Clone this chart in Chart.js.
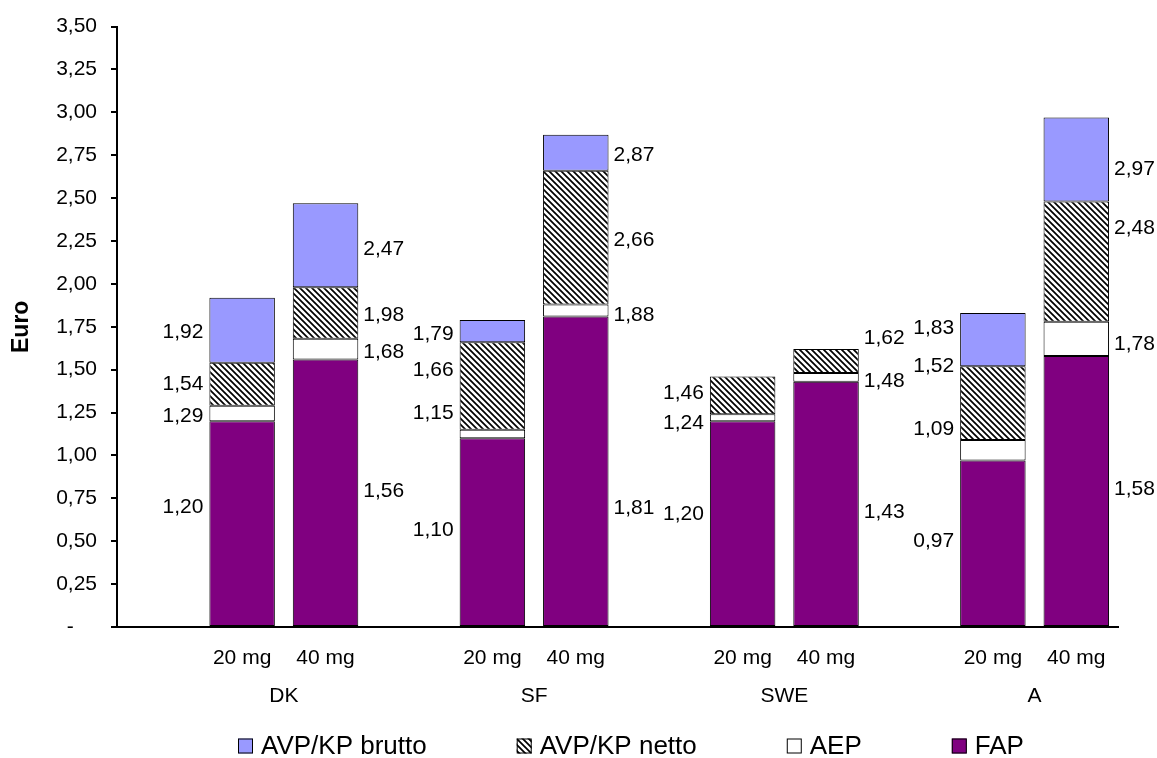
<!DOCTYPE html>
<html>
<head>
<meta charset="utf-8">
<script src="https://cdn.jsdelivr.net/npm/chart.js@4.4.1/dist/chart.umd.min.js"></script>
<style>
  html, body { margin: 0; padding: 0; background: #fff; }
  #wrap { width: 1157px; height: 758px; }
</style>
</head>
<body>
<div id="wrap"><canvas id="c" width="1157" height="758"></canvas></div>
<script>
// Price build-up per pack (Euro), cumulative levels.
// Bars in order: DK 20/40 mg, SF 20/40 mg, SWE 20/40 mg, A 20/40 mg
const countries = ['DK', 'SF', 'SWE', 'A'];
const doses = ['20 mg', '40 mg'];
const fap       = [1.20, 1.56, 1.10, 1.81, 1.20, 1.43, 0.97, 1.58];
const aep       = [1.29, 1.68, 1.15, 1.88, 1.24, 1.48, 1.09, 1.78];
const avpNetto  = [1.54, 1.98, 1.66, 2.66, 1.46, 1.62, 1.52, 2.48];
const avpBrutto = [1.92, 2.47, 1.79, 2.87, null, null, 1.83, 2.97];
const seriesNames = ['AVP/KP brutto', 'AVP/KP netto', 'AEP', 'FAP'];
const yMin = 0, yMax = 3.5, yStep = 0.25;

const FONT = '"Liberation Sans", Arial, sans-serif';

// vertical fine-tuning of the value labels (px), per series and bar
const labelNudge = {
  'FAP':           [-16, -1, -2, 37, -9, 8, -2, -2],
  'AEP':           [3, 3, -21, 5, 5, 4, -21, 5],
  'AVP/KP netto':  [0, 2, -16, 3, -2, -23, -37, -33],
  'AVP/KP brutto': [2, 4, 3, 3, 0, 0, -11, 10]
};

// 12 category slots: an empty slot in front of each country's pair of bars
const slotLabels = [];
const slotOfBar = [];
countries.forEach((c, ci) => {
  slotLabels.push('');
  doses.forEach((d, di) => {
    slotOfBar.push(slotLabels.length);
    slotLabels.push(d);
  });
});

function floating(lower, upper) {
  const out = slotLabels.map(() => null);
  upper.forEach((u, i) => {
    if (u === null || u === undefined) return;
    out[slotOfBar[i]] = [lower ? lower[i] : 0, u];
  });
  return out;
}

function hatchPattern() {
  const s = 6;
  const cv = document.createElement('canvas');
  cv.width = s; cv.height = s;
  const g = cv.getContext('2d');
  g.fillStyle = '#fff';
  g.fillRect(0, 0, s, s);
  g.strokeStyle = '#000';
  g.lineWidth = 1.7;
  g.beginPath();
  g.moveTo(-1, -1); g.lineTo(s + 1, s + 1);
  g.moveTo(-1, s - 1); g.lineTo(1, s + 1);
  g.moveTo(s - 1, -1); g.lineTo(s + 1, 1);
  g.stroke();
  return document.getElementById('c').getContext('2d').createPattern(cv, 'repeat');
}

const fmt = v => v.toFixed(2).replace('.', ',');

const datasets = [
  { label: 'FAP', data: floating(null, fap), backgroundColor: '#800080', upper: fap },
  { label: 'AEP', data: floating(fap, aep), backgroundColor: '#FFFFFF', upper: aep },
  { label: 'AVP/KP netto', data: floating(aep, avpNetto), backgroundColor: hatchPattern(), upper: avpNetto },
  { label: 'AVP/KP brutto', data: floating(avpNetto, avpBrutto), backgroundColor: '#9999FF', upper: avpBrutto }
];

// value labels beside the bars: left of the 20 mg bar, right of the 40 mg bar
const valueLabels = {
  id: 'valueLabels',
  afterDatasetsDraw(chart) {
    const ctx = chart.ctx;
    ctx.save();
    ctx.font = '21px ' + FONT;
    ctx.fillStyle = '#000';
    ctx.textBaseline = 'middle';
    chart.data.datasets.forEach((ds, di) => {
      const meta = chart.getDatasetMeta(di);
      ds.upper.forEach((v, bi) => {
        if (v === null) return;
        const el = meta.data[slotOfBar[bi]];
        if (!el) return;
        const p = el.getProps(['x', 'y', 'base', 'width'], true);
        const mid = (p.y + p.base) / 2 + (labelNudge[ds.label][bi] || 0);
        if (bi % 2 === 0) {
          ctx.textAlign = 'right';
          ctx.fillText(fmt(v), p.x - p.width / 2 - 6, mid);
        } else {
          ctx.textAlign = 'left';
          ctx.fillText(fmt(v), p.x + p.width / 2 + 5, mid);
        }
      });
    });
    ctx.restore();
  }
};

// country names centred under each pair of bars
const groupLabels = {
  id: 'groupLabels',
  afterDraw(chart) {
    const ctx = chart.ctx;
    const xs = chart.scales.x;
    ctx.save();
    ctx.font = '21px ' + FONT;
    ctx.fillStyle = '#000';
    ctx.textAlign = 'center';
    ctx.textBaseline = 'middle';
    countries.forEach((c, ci) => {
      const a = xs.getPixelForValue(slotOfBar[ci * 2]);
      const b = xs.getPixelForValue(slotOfBar[ci * 2 + 1]);
      ctx.fillText(c, (a + b) / 2, chart.chartArea.bottom + 69);
    });
    ctx.restore();
  }
};

// legend row along the bottom
const bottomLegend = {
  id: 'bottomLegend',
  afterDraw(chart) {
    const ctx = chart.ctx;
    ctx.save();
    ctx.font = '26px ' + FONT;
    ctx.textBaseline = 'middle';
    ctx.textAlign = 'left';
    const y = 746, box = 15, gap = 8, itemGap = 90;
    let x = 238;
    seriesNames.forEach(name => {
      const ds = chart.data.datasets.find(d => d.label === name);
      ctx.fillStyle = ds.backgroundColor;
      ctx.fillRect(x, y - box / 2, box, box);
      ctx.strokeStyle = '#000';
      ctx.lineWidth = 1;
      ctx.strokeRect(x + 0.5, y - box / 2 + 0.5, box - 1, box - 1);
      ctx.fillStyle = '#000';
      ctx.fillText(name, x + box + gap, y + 1);
      x += box + gap + ctx.measureText(name).width + itemGap;
    });
    ctx.restore();
  }
};

new Chart(document.getElementById('c'), {
  type: 'bar',
  data: { labels: slotLabels, datasets },
  plugins: [valueLabels, groupLabels, bottomLegend],
  options: {
    responsive: false,
    animation: false,
    layout: { padding: { top: 23, right: 39, bottom: 0, left: 0 } },
    plugins: { legend: { display: false }, tooltip: { enabled: false } },
    datasets: {
      bar: {
        categoryPercentage: 1,
        barPercentage: 0.785,
        borderWidth: 1,
        borderColor: '#000',
        borderSkipped: false
      }
    },
    scales: {
      x: {
        stacked: true,
        grid: { display: false, drawTicks: false },
        border: { display: true, color: '#000', width: 2 },
        ticks: { color: '#000', font: { family: FONT, size: 21 }, padding: 19, maxRotation: 0, autoSkip: false },
        afterFit: s => { s.height = 131; }
      },
      y: {
        stacked: false,
        min: yMin,
        max: yMax,
        grid: { drawOnChartArea: false, drawTicks: true, tickLength: 6, color: '#000', lineWidth: 2 },
        border: { display: true, color: '#000', width: 2 },
        ticks: {
          stepSize: yStep,
          color: '#000',
          font: { family: FONT, size: 21 },
          padding: 14,
          callback: v => (Math.abs(v) < 1e-9 ? '-    ' : fmt(v))
        },
        title: { display: true, text: 'Euro', color: '#000', font: { family: FONT, size: 23, weight: 'bold' }, padding: { top: 8, bottom: 0 } },
        afterFit: s => { s.width = 117; }
      }
    }
  }
});
</script>
</body>
</html>
